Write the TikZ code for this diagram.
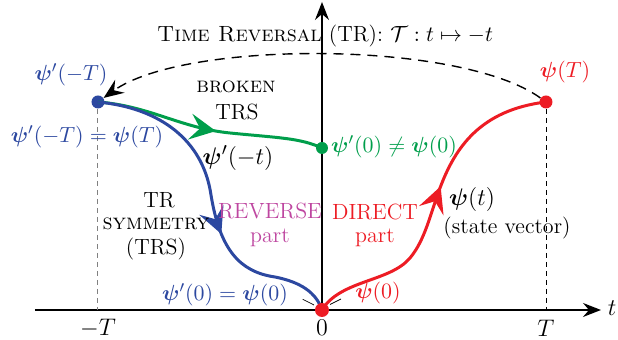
\documentclass[tikz,border=0pt]{standalone}
\usepackage{bm}
\usetikzlibrary{arrows.meta,decorations.markings}
\definecolor{tblue}{RGB}{44,72,160}
\definecolor{tred}{RGB}{237,28,36}
\definecolor{tgreen}{RGB}{0,158,75}
\definecolor{tmag}{RGB}{190,70,160}
\tikzset{
  curve/.style={line width=1.5pt},
  midarrow/.style={postaction={decorate,decoration={markings,mark=at position #1 with {\arrow{Stealth[length=13pt,width=13pt,inset=5pt]}}}}},
  axis/.style={line width=0.7pt,-{Stealth[length=9pt,width=7pt,inset=3pt]}},
  dot/.style={circle,fill,inner sep=0pt,minimum size=#1},
  lbl/.style={inner sep=0pt,font=\fontsize{11}{13}\selectfont},
  big/.style={inner sep=0pt,font=\fontsize{12.5}{14}\selectfont},
}
\begin{document}
\begin{tikzpicture}[x=0.5pt,y=-0.5pt]
\useasboundingbox (0,0) rectangle (618,340);
% axes
\coordinate (O) at (322,310);
\coordinate (xs) at (35,310);
\coordinate (xe) at (601,310);
\coordinate (ye) at (322,2);
\draw[axis] (xs) -- (xe);
\draw[axis] (O) -- (ye);
% dashed verticals
\coordinate (mT) at (98,310);
\coordinate (pT) at (546,310);
\node[dot=6.5pt,fill=tblue] (A) at (98,102) {};
\node[dot=6.5pt,fill=tred] (B) at (546,102) {};
\node[dot=6pt,fill=tgreen] (G) at (322,148) {};
\draw[gray,line width=0.5pt,dash pattern=on 2.5pt off 2pt] (A) -- (mT);
\draw[black,line width=0.4pt,dash pattern=on 2.5pt off 2pt] (B) -- (pT);
% dashed time-reversal arc
\draw[line width=0.7pt,dash pattern=on 5pt off 3.5pt,-{Stealth[length=10pt,width=8pt,inset=3.5pt]}]
  (B) .. controls (460,40) and (184,40) .. (A);
% green curve
\draw[tgreen,curve,midarrow=0.53] (A.center) .. controls (150,106) and (180,128) .. (230,133) .. controls (280,138) and (300,138) .. (G.center);
% blue curve
\draw[tblue,curve,midarrow=0.6] (A.center) .. controls (160,108) and (203,140) .. (211,195) .. controls (220,250) and (240,272) .. (275,277) .. controls (300,282) and (316,292) .. (O);
% red curve
\draw[tred,curve,midarrow=0.56] (O) .. controls (340,280) and (390,282) .. (410,258) .. controls (425,240) and (430,215) .. (440,188) .. controls (455,148) and (480,110) .. (B.center);
% small tick marks at origin
\coordinate (t1a) at (302.7,299.3); \coordinate (t1b) at (314,305);
\coordinate (t2a) at (330,304.5); \coordinate (t2b) at (341,299);
\draw[line width=0.35pt] (t1a) -- (t1b);
\draw[line width=0.35pt] (t2a) -- (t2b);
\node[dot=7pt,fill=tred] (Od) at (O) {};
% labels
\node[lbl] (title) at (325,36) {\textsc{Time Reversal} (TR): $\mathcal{T}: t\mapsto -t$};
\node[lbl,tblue] (l1) at (71,75) {$\bm{\psi}'(-T)$};
\node[lbl,tblue] (l2) at (87,137) {$\bm{\psi}'(-T)=\bm{\psi}(T)$};
\node[lbl,tred] (l3) at (565,72) {$\bm{\psi}(T)$};
\node[lbl,tgreen] (l4) at (394,147) {$\bm{\psi}'(0)\neq\bm{\psi}(0)$};
\node[lbl] (br) at (236,87) {\textsc{broken}};
\node[lbl] (trs) at (237,112) {TRS};
\node[big] (pmt) at (238,158) {$\bm{\psi}'(-t)$};
\node[lbl] (tr) at (159,200) {TR};
\node[lbl] (sym) at (156,224) {\textsc{symmetry}};
\node[lbl] (trs2) at (156,249) {(TRS)};
\node[lbl,tmag] (rev) at (270,211) {REVERSE};
\node[lbl,tmag] (revp) at (270,238) {part};
\node[lbl,tred] (dir) at (375,212) {DIRECT};
\node[lbl,tred] (dirp) at (375,238) {part};
\node[big] (pt) at (472,200) {$\bm{\psi}(t)$};
\node[lbl] (sv) at (507,228) {(state vector)};
\node[lbl,tblue] (p0) at (225,295) {$\bm{\psi}'(0)=\bm{\psi}(0)$};
\node[lbl,tred] (r0) at (378,293) {$\bm{\psi}(0)$};
\node[big] (lmT) at (98,328) {$-T$};
\node[big] (l0) at (322,328) {$0$};
\node[big] (lT) at (546,328) {$T$};
\node[big] (lt) at (612,308) {$t$};
\end{tikzpicture}
\end{document}
